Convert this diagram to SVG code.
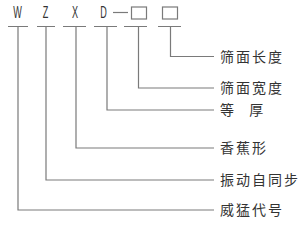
<svg xmlns="http://www.w3.org/2000/svg" width="302" height="226" viewBox="0 0 302 226">
<style>
.ln{stroke:#7a7a7a;stroke-width:1.2;fill:none}
.lt{font-family:"Liberation Sans",sans-serif;font-size:16.5px;fill:#333;text-anchor:middle}
.cn{font-family:"Noto Sans CJK SC",sans-serif;font-size:14px;fill:#333;letter-spacing:2px}
</style>
<rect width="302" height="226" fill="#fff"/>
<g id="code">
<text class="lt" transform="translate(17.5,17.5) scale(0.55,1)">W</text>
<text class="lt" transform="translate(45.5,17.5) scale(0.55,1)">Z</text>
<text class="lt" transform="translate(75,17.5) scale(0.55,1)">X</text>
<text class="lt" transform="translate(103.5,17.5) scale(0.55,1)">D</text>
<line class="ln" x1="113" y1="12.5" x2="128" y2="12.5"/>
<rect class="ln" x="131.5" y="7" width="15" height="12"/>
<rect class="ln" x="162.5" y="7" width="15" height="12"/>
</g>
<g id="connectors">
<path class="ln" d="M8 26.5H28M18 26.5V210H214"/>
<path class="ln" d="M37 26.5H55M46 26.5V180H214"/>
<path class="ln" d="M63 26.5H86M76 26.5V148H214"/>
<path class="ln" d="M94 26.5H117M107 26.5V110H214"/>
<path class="ln" d="M124 26.5H147M138.5 26.5V88H214"/>
<path class="ln" d="M158 26.5H181M170.5 26.5V56.5H214"/>
</g>
<g id="n1"><text class="cn" x="220" y="61.5">筛面长度</text></g>
<g id="n2"><text class="cn" x="220" y="93">筛面宽度</text></g>
<g id="n3"><text class="cn" x="220" y="115" xml:space="preserve" style="word-spacing:8px">等 厚</text></g>
<g id="n4"><text class="cn" x="220" y="153">香蕉形</text></g>
<g id="n5"><text class="cn" x="220" y="185">振动自同步</text></g>
<g id="n6"><text class="cn" x="220" y="215">威猛代号</text></g>
</svg>
